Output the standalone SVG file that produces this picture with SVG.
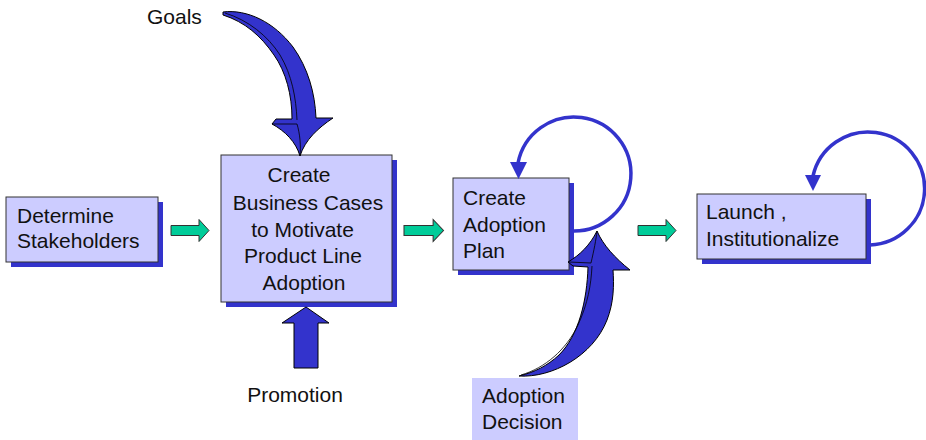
<svg xmlns="http://www.w3.org/2000/svg" xmlns:xlink="http://www.w3.org/1999/xlink" width="926" height="440" viewBox="0 0 926 440">
  <style>
    .box { fill: #CCCCFF; stroke: #333333; stroke-width: 1; }
    .shadow { fill: #3333CC; }
    .label { font-family: "Liberation Sans", Arial, sans-serif; font-size: 21px; fill: #111111; }
    .mid { text-anchor: middle; }
    .big { fill: #3333CC; stroke: #000000; stroke-width: 1; stroke-linejoin: round; }
    .edge3d { fill: none; stroke: #000000; stroke-width: 0.8; }
    .step { fill: #00CC99; stroke: #333333; stroke-width: 1; }
    .loop { fill: none; stroke: #3333CC; stroke-width: 3.5; }
    .loophead { fill: #3333CC; }
  </style>
  <defs>
    <!-- small green step arrow, 38 wide, centred on y=0 -->
    <path id="stepArrow" d="M0,-5 L28,-5 L28,-11 L38,0 L28,11 L28,5 L0,5 Z"/>
  </defs>

  <rect width="926" height="440" fill="#FFFFFF"/>

  <!-- nodes -->
  <g id="determine-stakeholders">
    <rect class="shadow" x="11" y="202" width="152" height="65"/>
    <rect class="box" x="6" y="197" width="152" height="65"/>
    <text class="label" x="17" y="223">Determine</text>
    <text class="label" x="17" y="248">Stakeholders</text>
  </g>

  <g id="business-cases">
    <rect class="shadow" x="226" y="160" width="171" height="147"/>
    <rect class="box" x="221" y="155" width="171" height="147"/>
    <text class="label mid" x="299" y="182">Create</text>
    <text class="label mid" x="308" y="210">Business Cases</text>
    <text class="label mid" x="302.5" y="237">to Motivate</text>
    <text class="label mid" x="303" y="263">Product Line</text>
    <text class="label mid" x="304" y="290">Adoption</text>
  </g>

  <g id="adoption-plan">
    <rect class="shadow" x="458" y="183" width="116" height="92"/>
    <rect class="box" x="453" y="178" width="116" height="92"/>
    <text class="label" x="463" y="205">Create</text>
    <text class="label" x="463" y="231.5">Adoption</text>
    <text class="label" x="463" y="257.5">Plan</text>
  </g>

  <g id="launch">
    <rect class="shadow" x="702" y="199" width="169" height="65"/>
    <rect class="box" x="697" y="194" width="169" height="65"/>
    <text class="label" x="706" y="219">Launch ,</text>
    <text class="label" x="706" y="245.5">Institutionalize</text>
  </g>

  <g id="goals">
    <text class="label" x="147" y="24">Goals</text>
  </g>

  <g id="promotion">
    <text class="label mid" x="295" y="401.5">Promotion</text>
  </g>

  <g id="adoption-decision">
    <rect x="472" y="378" width="106" height="62" fill="#CCCCFF"/>
    <text class="label" x="482" y="402.5">Adoption</text>
    <text class="label" x="482" y="429">Decision</text>
  </g>

  <!-- connectors -->
  <g id="connectors">
    <!-- step arrows between stages -->
    <use xlink:href="#stepArrow" class="step" transform="translate(171,230.5)"/>
    <use xlink:href="#stepArrow" class="step" transform="translate(404,230.5) scale(1.04,1)"/>
    <use xlink:href="#stepArrow" class="step" transform="translate(638,230.5)"/>

    <!-- curved Goals arrow into the business-case stage -->
    <path class="big" d="M223,12 C247,9 274,22 293,47 C308,68 315,93 316,118 L333,118 C318,128 305,140 300,156 C296,142 285,131 272,124 L276,119 L292,119 C292,95 286,72 274,55 C261,36 245,22 223,15 Z"/>
    <path class="edge3d" d="M225,13 C248,20 268,36 280,55 C292,75 296,98 297,120"/>
    <path class="edge3d" d="M272,124 L297,124 C300,134 301,146 300,156"/>

    <!-- straight Promotion arrow -->
    <polygon class="big" points="306,307 329,323 318,323 318,368 294,368 294,323 282,323"/>

    <!-- curved Adoption Decision arrow into the plan stage -->
    <path class="big" d="M519,376 C552,378 593,356 607,320 C614,302 614,285 613,270 L630,270 C615,258 603,245 597,231 C590,245 580,255 568,262 L573,266 L588,267 C587,300 579,335 559,355 C547,366 535,372 519,376 Z"/>
    <path class="edge3d" d="M521,375 C545,368 566,350 578,325 C588,303 591,285 592,266"/>
    <path class="edge3d" d="M569,262 L591,263 C594,250 596,240 597,231"/>

    <!-- self-loop on the plan stage -->
    <path class="loop" d="M573,231 A57,57 0 1 0 518,163"/>
    <polygon class="loophead" points="510,162 527,162 518.5,179"/>

    <!-- self-loop on the launch stage -->
    <path class="loop" d="M870,245 A56.5,56.5 0 1 0 813,176"/>
    <polygon class="loophead" points="805,175 821,175 813,191"/>
  </g>
</svg>
